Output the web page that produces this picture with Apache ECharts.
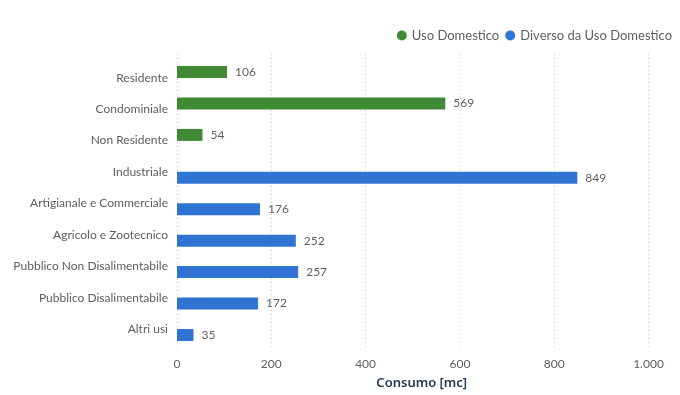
<!DOCTYPE html>
<html>
<head>
<meta charset="utf-8">
<script src="https://cdn.jsdelivr.net/npm/echarts@6/dist/echarts.min.js"></script>
<style>html,body{margin:0;padding:0;background:#fff}#c{width:680px;height:395px}</style>
</head>
<body>
<div id="c"></div>
<script>
const categories = ["Residente","Condominiale","Non Residente","Industriale","Artigianale e Commerciale","Agricolo e Zootecnico","Pubblico Non Disalimentabile","Pubblico Disalimentabile","Altri usi"];
const usoDomestico = [106, 569, 54, null, null, null, null, null, null];
const diversoDomestico = [null, null, null, 849, 176, 252, 257, 172, 35];
const seriesNames = ["Uso Domestico", "Diverso da Uso Domestico"];
const xMin = 0, xMax = 1000, xStep = 200;
const axisTitle = "Consumo [mc]";

const FONT = "Lato, 'Noto Sans', sans-serif";
const GRAY = "#605e5c";
const fmt = v => String(v).replace(/\B(?=(\d{3})+(?!\d))/g, ".");

const chart = echarts.init(document.getElementById('c'), null, {renderer: 'canvas'});
chart.setOption({
  animation: false,
  textStyle: {fontFamily: FONT},
  legend: {
    data: seriesNames,
    right: 3, top: 24,
    icon: 'circle', itemWidth: 10, itemHeight: 10, itemGap: 6,
    textStyle: {color: GRAY, fontSize: 13, fontFamily: FONT}
  },
  grid: [
    {left: 177, right: 31.5, top: 62, bottom: 50, containLabel: false},
    {left: 177, right: 31.5, top: 54, bottom: 40, containLabel: false}
  ],
  xAxis: [
    {gridIndex: 0, type: 'value', min: xMin, max: xMax, interval: xStep,
     axisLine: {show: false}, axisTick: {show: false}, axisLabel: {show: false}, splitLine: {show: false}},
    {gridIndex: 1, type: 'value', min: xMin, max: xMax, interval: xStep,
     axisLine: {show: false}, axisTick: {show: false},
     axisLabel: {color: GRAY, fontSize: 12, margin: 9, formatter: fmt},
     splitLine: {show: true, lineStyle: {color: '#c8c8c8', type: [1, 3], width: 1}},
     name: axisTitle, nameLocation: 'middle', nameGap: 28,
     nameTextStyle: {color: '#1d3756', fontSize: 13, fontWeight: 600, fontFamily: "'Noto Sans', sans-serif", padding: [0, 0, 0, 18]}}
  ],
  yAxis: [
    {gridIndex: 0, type: 'category', data: categories, inverse: true,
     axisLine: {show: false}, axisTick: {show: false},
     axisLabel: {color: GRAY, fontSize: 12, margin: 9}},
    {gridIndex: 1, type: 'category', data: categories, inverse: true, show: false}
  ],
  series: [
    {name: seriesNames[0], type: 'bar', xAxisIndex: 0, yAxisIndex: 0, data: usoDomestico,
     barWidth: 12, barGap: '-5%', itemStyle: {color: '#408a36'},
     label: {show: true, position: 'right', distance: 8, color: GRAY, fontSize: 12, formatter: p => fmt(p.value)}},
    {name: seriesNames[1], type: 'bar', xAxisIndex: 0, yAxisIndex: 0, data: diversoDomestico,
     barWidth: 12, barGap: '-5%', itemStyle: {color: '#3074d3'},
     label: {show: true, position: 'right', distance: 8, color: GRAY, fontSize: 12, formatter: p => fmt(p.value)}}
  ]
});
</script>
</body>
</html>
